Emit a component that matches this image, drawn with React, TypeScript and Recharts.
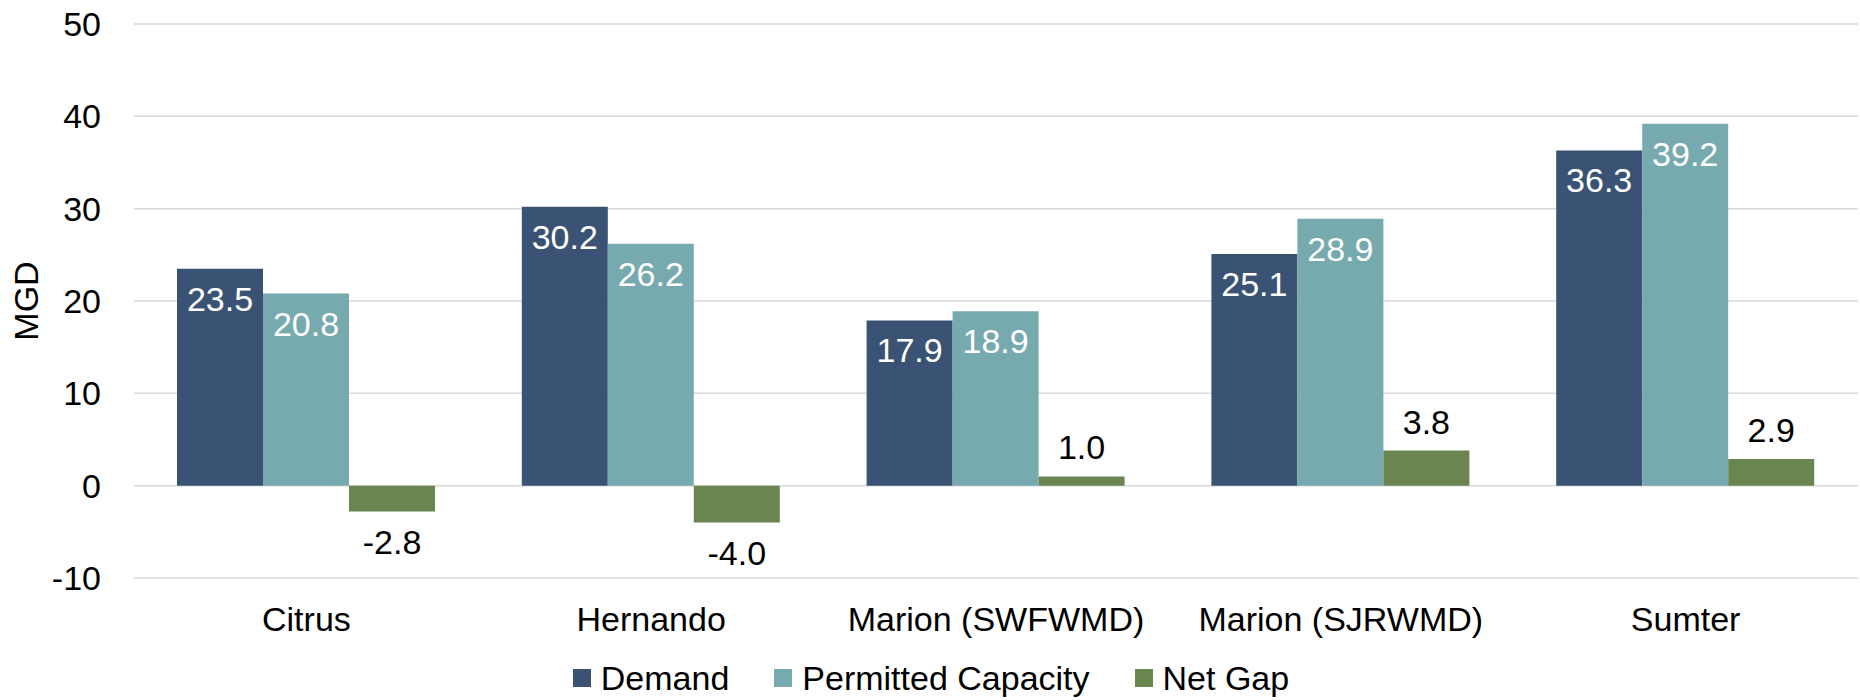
import React from "react";
import {
  BarChart,
  Bar,
  XAxis,
  YAxis,
  CartesianGrid,
  Legend,
  LabelList,
} from "recharts";

const counties = ["Citrus", "Hernando", "Marion (SWFWMD)", "Marion (SJRWMD)", "Sumter"];
const demand = [23.5, 30.2, 17.9, 25.1, 36.3];
const permitted = [20.8, 26.2, 18.9, 28.9, 39.2];
const netGap = [-2.8, -4.0, 1.0, 3.8, 2.9];
const yTicks = [-10, 0, 10, 20, 30, 40, 50];

const series = [
  { key: "demand", name: "Demand", color: "#3A5273" },
  { key: "permitted", name: "Permitted Capacity", color: "#76AAAE" },
  { key: "netGap", name: "Net Gap", color: "#6A8550" },
];

const data = counties.map((county, i) => ({
  county,
  demand: demand[i],
  permitted: permitted[i],
  netGap: netGap[i],
}));

const FONT = 34;

// white value inside the top of the bar
const insideLabel = (props: any) => {
  const { x, y, width, height, value } = props;
  const top = Math.min(Number(y), Number(y) + Number(height));
  return (
    <text x={Number(x) + Number(width) / 2} y={top + 42} textAnchor="middle" fill="#fff" fontSize={FONT}>
      {Number(value).toFixed(1)}
    </text>
  );
};

// black value above positive bars, below negative ones
const gapLabel = (props: any) => {
  const { x, y, width, height, value } = props;
  const a = Number(y);
  const b = Number(y) + Number(height);
  const top = Math.min(a, b);
  const bottom = Math.max(a, b);
  const v = Number(value);
  const ty = v >= 0 ? top - 17 : bottom + 42;
  return (
    <text x={Number(x) + Number(width) / 2} y={ty} textAnchor="middle" fill="#000" fontSize={FONT}>
      {v.toFixed(1)}
    </text>
  );
};

const yLabel = (props: any) => {
  const vb = props.viewBox || {};
  const cy = (vb.y || 0) + (vb.height || 0) / 2;
  return (
    <text transform={`translate(38, ${cy}) rotate(-90)`} textAnchor="middle" fill="#000" fontSize={FONT}>
      MGD
    </text>
  );
};

const legendContent = () => (
  <div
    style={{
      display: "flex",
      justifyContent: "center",
      alignItems: "center",
      height: 36,
      lineHeight: "36px",
      fontSize: FONT,
      color: "#000",
      paddingLeft: 4,
    }}
  >
    {series.map((s, i) => (
      <div key={s.key} style={{ display: "flex", alignItems: "center", marginLeft: i === 0 ? 0 : 45 }}>
        <span style={{ display: "inline-block", width: 18, height: 18, background: s.color, marginRight: 10 }} />
        <span>{s.name}</span>
      </div>
    ))}
  </div>
);

export default function App() {
  return (
    <div
      style={{
        position: "absolute",
        left: 0,
        top: 0,
        width: 1860,
        height: 700,
        background: "#fff",
        fontFamily: "'Liberation Sans', Arial, sans-serif",
      }}
    >
      <BarChart
        width={1860}
        height={700}
        data={data}
        margin={{ top: 24, right: 2, left: 0, bottom: 4 }}
        barCategoryGap={43}
        barGap={0}
      >
        <CartesianGrid vertical={false} stroke="#D9D9D9" strokeWidth={1.5} />
        <XAxis
          dataKey="county"
          axisLine={false}
          tickLine={false}
          tickSize={0}
          tickMargin={29}
          height={82}
          interval={0}
          tick={{ fill: "#000", fontSize: FONT }}
        />
        <YAxis
          width={134}
          domain={[-10, 50]}
          ticks={yTicks}
          axisLine={false}
          tickLine={false}
          tickSize={0}
          tickMargin={33}
          tick={{ fill: "#000", fontSize: FONT }}
          label={yLabel}
        />
        <Legend verticalAlign="bottom" content={legendContent} />
        <Bar dataKey="demand" name="Demand" fill="#3A5273" isAnimationActive={false}>
          <LabelList dataKey="demand" content={insideLabel} />
        </Bar>
        <Bar dataKey="permitted" name="Permitted Capacity" fill="#76AAAE" isAnimationActive={false}>
          <LabelList dataKey="permitted" content={insideLabel} />
        </Bar>
        <Bar dataKey="netGap" name="Net Gap" fill="#6A8550" isAnimationActive={false}>
          <LabelList dataKey="netGap" content={gapLabel} />
        </Bar>
      </BarChart>
    </div>
  );
}
